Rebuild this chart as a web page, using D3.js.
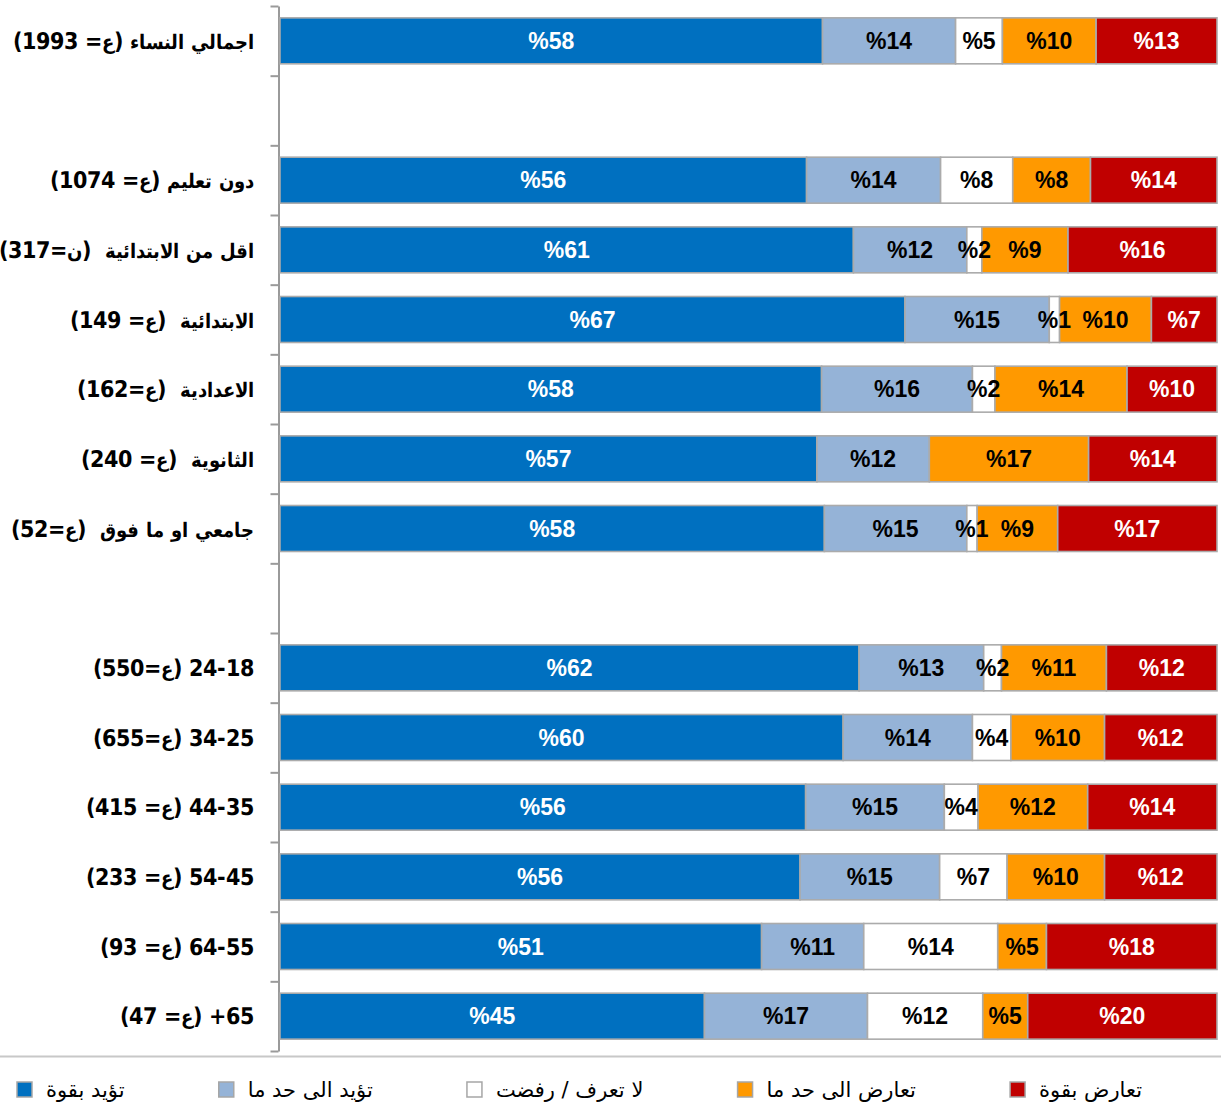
<!DOCTYPE html>
<html>
<head>
<meta charset="utf-8">
<script src="https://cdn.jsdelivr.net/npm/d3@7"></script>
<style>
  body { margin: 0; background: #fff; }
  svg { display: block; }
  /* Arabic glyphs of DejaVu run wide, shrink them a little for the row labels */
  @font-face {
    font-family: 'CatLabel';
    src: local('DejaVu Sans Condensed Bold'), local('DejaVuSansCondensed-Bold');
    font-weight: bold;
    unicode-range: U+0600-06FF, U+FB50-FDFF, U+FE70-FEFF;
    size-adjust: 85%;
  }
  @font-face {
    font-family: 'CatLabel';
    src: local('DejaVu Sans Condensed Bold'), local('DejaVuSansCondensed-Bold');
    font-weight: bold;
    unicode-range: U+0000-05FF;
  }
</style>
</head>
<body>
<div id="chart"></div>
<script>
// rows top to bottom, "" = empty spacer row
const categories = [
    'اجمالي النساء (ع= 1993)',
    '',
    'دون تعليم (ع= 1074)',
    'اقل من الابتدائية  (ن=317)',
    'الابتدائية  (ع= 149)',
    'الاعدادية  (ع=162)',
    'الثانوية  (ع= 240)',
    'جامعي او ما فوق  (ع=52)',
    '',
    '24-18 (ع=550)',
    '34-25 (ع=655)',
    '44-35 (ع= 415)',
    '54-45 (ع= 233)',
    '64-55 (ع= 93)',
    '65+ (ع= 47)'
];

const seriesNames = ['تؤيد بقوة', 'تؤيد الى حد ما', 'لا تعرف / رفضت', 'تعارض الى حد ما', 'تعارض بقوة'];

const strongSupport = [57.9, null, 56.2, 61.2, 66.7, 57.8, 57.3, 58.1, null, 61.8, 60.1, 56.1, 55.5, 51.4, 45.3];
const someSupport   = [14.2, null, 14.3, 12.1, 15.4, 16.1, 12.0, 15.2, null, 13.3, 13.8, 14.8, 14.9, 10.9, 17.4];
const dontKnow      = [5.0,  null, 7.7,  1.6,  1.1,  2.4,  0,    1.1,  null, 1.9,  4.1,  3.6,  7.2,  14.3, 12.3];
const someOppose    = [10.0, null, 8.3,  9.2,  9.8,  14.1, 17.0, 8.6,  null, 11.2, 10.0, 11.7, 10.4, 5.2,  4.8];
const strongOppose  = [12.9, null, 13.5, 15.9, 7.0,  9.6,  13.7, 17.0, null, 11.8, 12.0, 13.8, 12.0, 18.2, 20.2];

const colors = ['#0070C0', '#95B3D7', '#FFFFFF', '#FF9900', '#C00000'];
const textColors = ['#ffffff', '#000000', '#000000', '#000000', '#ffffff'];

const width = 1221, height = 1107;
const labelFont = '"Liberation Sans", Arial, "DejaVu Sans", sans-serif';

const svg = d3.select('#chart').append('svg')
    .attr('width', width)
    .attr('height', height);

const keys = d3.range(seriesNames.length);
const seriesValues = [strongSupport, someSupport, dontKnow, someOppose, strongOppose];

const rows = categories.map((c, i) => {
    const r = { index: i, label: c };
    keys.forEach(k => { r[k] = seriesValues[k][i]; });
    return r;
}).filter(r => r[0] !== null);

const stacked = d3.stack().keys(keys)(rows);

const x = d3.scaleLinear()
    .domain([0, 100])
    .range([280, 1217]);

const y = d3.scaleBand()
    .domain(d3.range(categories.length))
    .range([6, 1051])
    .paddingInner(0.34)
    .paddingOuter(0.17);

// axis with ticks on the category boundaries
const yEdge = d3.scaleLinear()
    .domain([0, categories.length])
    .range([6, 1051]);

const axis = svg.append('g')
    .attr('transform', 'translate(278.5,0)')
    .call(d3.axisLeft(yEdge).ticks(categories.length).tickFormat('').tickSizeInner(8).tickSizeOuter(0));
axis.select('.domain').attr('stroke', '#9a9a9a').attr('stroke-width', 2);
axis.selectAll('.tick line').attr('stroke', '#9a9a9a').attr('stroke-width', 2);

// category labels
svg.append('g')
    .selectAll('text')
    .data(categories.map((c, i) => ({ c, i })).filter(d => d.c !== ''))
    .join('text')
    .attr('x', 254)
    .attr('y', d => y(d.i) + y.bandwidth() / 2)
    .attr('dy', '0.36em')
    .attr('direction', 'rtl')
    .attr('text-anchor', 'start')
    .style('white-space', 'pre')
    .style('font-family', '"CatLabel", "DejaVu Sans Condensed", "DejaVu Sans", sans-serif')
    .style('font-weight', 'bold')
    .style('font-size', '23px')
    .attr('fill', '#000')
    .text(d => d.c);

// bars
const layers = svg.append('g')
    .selectAll('g')
    .data(stacked)
    .join('g')
    .attr('fill', d => colors[d.key]);

layers.selectAll('rect')
    .data(d => d)
    .join('rect')
    .attr('x', d => x(d[0]))
    .attr('y', d => y(d.data.index))
    .attr('width', d => x(d[1]) - x(d[0]))
    .attr('height', y.bandwidth())
    .attr('stroke', '#ababab')
    .attr('stroke-width', 1.6);

// value labels
const labels = svg.append('g');
stacked.forEach(layer => {
    labels.selectAll(null)
        .data(layer.filter(d => d[1] - d[0] >= 0.5))
        .join('text')
        .attr('x', d => (x(d[0]) + x(d[1])) / 2)
        .attr('y', d => y(d.data.index) + y.bandwidth() / 2)
        .attr('dy', '0.36em')
        .attr('text-anchor', 'middle')
        .style('font-family', labelFont)
        .style('font-weight', 'bold')
        .style('font-size', '23px')
        .attr('fill', textColors[layer.key])
        .text(d => '%' + Math.round(d.data[layer.key]));
});

// separator above legend
svg.append('line')
    .attr('x1', 0)
    .attr('x2', width)
    .attr('y1', 1056.5)
    .attr('y2', 1056.5)
    .attr('stroke', '#c8c8c8')
    .attr('stroke-width', 2);

// legend
const legend = svg.append('g');
const items = legend.selectAll('g')
    .data(keys)
    .join('g');

items.append('rect')
    .attr('width', 15)
    .attr('height', 15)
    .attr('y', 1082)
    .attr('fill', k => colors[k])
    .attr('stroke', '#a6a6a6')
    .attr('stroke-width', 1.5);

items.append('text')
    .attr('y', 1089)
    .attr('dy', '0.36em')
    .attr('direction', 'rtl')
    .attr('text-anchor', 'end')
    .style('font-family', '"DejaVu Sans", sans-serif')
    .style('font-size', '21px')
    .attr('fill', '#000')
    .text(k => seriesNames[k]);

// spread items so the row runs from 17 to 1142 like the original
const textW = [];
items.select('text').each(function () { textW.push(this.getComputedTextLength()); });
const itemW = textW.map(w => 15 + 14 + w);
const gap = (1142 - 17 - d3.sum(itemW)) / (keys.length - 1);
let cursor = 17;
items.each(function (k) {
    const g = d3.select(this);
    g.select('rect').attr('x', cursor);
    g.select('text').attr('x', cursor + 29);
    cursor += itemW[k] + gap;
});
</script>
</body>
</html>
